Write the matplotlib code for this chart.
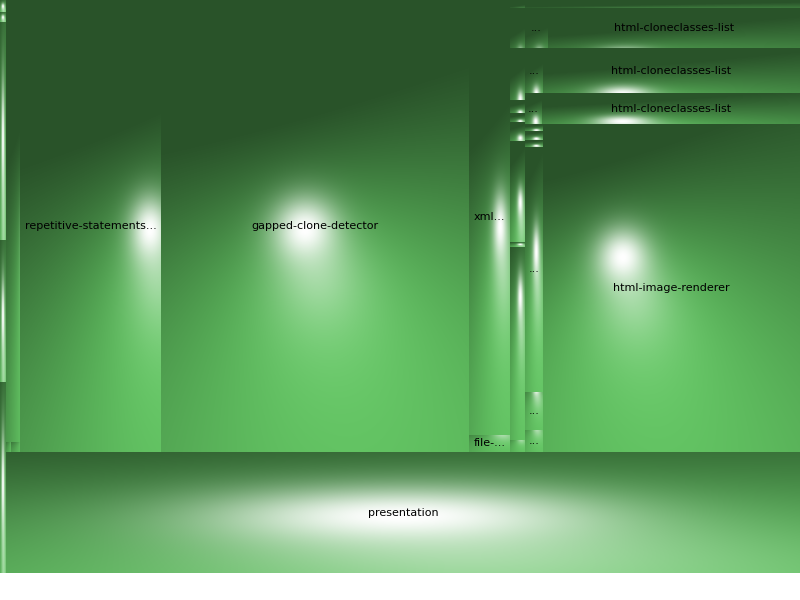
import numpy as np
import matplotlib
matplotlib.use("Agg")
import matplotlib.pyplot as plt
from matplotlib.patches import Rectangle

# ---------------- data (leaf sizes) ----------------
strip_values = [72, 60, 1308, 852, 1146]
col_a_values = [6188]
col_a_foot_values = [50, 90]
g_names = ["repetitive-statements...", "gapped-clone-detector"]
g_values = [63732, 139216]
xml_names = ["xml...", "file-..."]
xml_values = [17835, 697]
col_b_values = [120, 600, 780, 195, 135, 285, 1515, 75, 2895, 180]
html_head_values = [2200]
row_dot_names = ["...", "...", "..."]
row_dot_values = [920, 810, 527]
row_names = ["html-cloneclasses-list", "html-cloneclasses-list", "html-cloneclasses-list"]
row_values = [10080, 11565, 7998]
col_c_names = ["", "", "", "...", "...", "..."]
col_c_values = [126, 162, 126, 4410, 684, 396]
renderer_names = ["html-image-renderer"]
renderer_values = [84296]
presentation_names = ["presentation"]
presentation_values = [96074]

# ---------------- style ----------------
F = 1.12          # ridge height factor per level
RH = 0.15         # base ridge height
L1 = np.array([0.3, 1.15, 1.0]); L1 /= np.linalg.norm(L1)
H1 = L1 + np.array([0.0, 0.0, 1.0]); H1 /= np.linalg.norm(H1)
L2 = np.array([0.0, 0.036, 1.0]); L2 /= np.linalg.norm(L2)
P, P2, K2 = 24, 14, 0.4
WRAP = 0.05
AMB, KD, KS = 0.41, 0.56, 1.0
BASE = np.array([0.40, 0.80, 0.40])
MAP_W, MAP_H = 800, 573


class Node:
    def __init__(self, name="", value=0.0, children=None, split="x", real=True):
        self.name = name
        self.value = value
        self.children = children or []
        self.split = split
        self.real = real

    def total(self):
        if not self.children:
            return self.value
        return sum(c.total() for c in self.children)


def leaves(values, names=None):
    names = names if names is not None else [""] * len(values)
    return [Node(n, v) for n, v in zip(names, values)]


def group(children, split, real=False):
    return Node("", 0, children, split, real)


strip = group(leaves(strip_values), "y")
col_a = group(leaves(col_a_values) + [group(leaves(col_a_foot_values), "x")], "y")
G = group([col_a] + leaves(g_values, g_names), "x", real=True)
col_xml = group(leaves(xml_values, xml_names), "y")
col_b = group(leaves(col_b_values), "y")
rows = [group(leaves([d], [dn]) + leaves([v], [n]), "x")
        for dn, d, n, v in zip(row_dot_names, row_dot_values, row_names, row_values)]
col_c = group(leaves(col_c_values, col_c_names), "y")
bottom = group([col_c] + leaves(renderer_values, renderer_names), "x")
col_html = group(leaves(html_head_values) + rows + [bottom], "y")
Hn = group([col_xml, col_b, col_html], "x", real=True)
top = group([G, Hn], "x", real=True)
main = group([top] + leaves(presentation_values, presentation_names), "y")
root = group([strip, main], "x")


def layout(node, rect, ancestors, depth, out):
    anc, d = ancestors, depth
    if node.real:
        d = depth + 1
        anc = ancestors + [(rect, F ** (d - 1))]
    if not node.children:
        out.append((node, rect, anc))
        return
    x0, y0, x1, y1 = rect
    tot = node.total()
    pos = x0 if node.split == "x" else y0
    span = (x1 - x0) if node.split == "x" else (y1 - y0)
    for c in node.children:
        size = span * c.total() / tot
        r = (pos, y0, pos + size, y1) if node.split == "x" else (x0, pos, x1, pos + size)
        pos += size
        layout(c, r, anc, d, out)


def shade(rect, anc):
    x0, y0, x1, y1 = rect
    nx_ = max(1, int(round(x1 - x0)))
    ny_ = max(1, int(round(y1 - y0)))
    xs = x0 + (np.arange(nx_) + 0.5) * (x1 - x0) / nx_
    ys = y0 + (np.arange(ny_) + 0.5) * (y1 - y0) / ny_
    X, Y = np.meshgrid(xs, ys)
    dzdx = np.zeros_like(X)
    dzdy = np.zeros_like(Y)
    for (ax0, ay0, ax1, ay1), w in anc:
        dzdx += 8 * RH * w * ((ax0 + ax1) / 2 - X) / (ax1 - ax0)
        dzdy += 8 * RH * w * ((ay0 + ay1) / 2 - Y) / (ay1 - ay0)
    norm = np.sqrt(dzdx ** 2 + dzdy ** 2 + 1)

    def dot(v):
        return np.clip((-dzdx * v[0] - dzdy * v[1] + v[2]) / norm, 0, None)

    ndl = (-dzdx * L1[0] - dzdy * L1[1] + L1[2]) / norm
    diff = np.clip((ndl + WRAP) / (1 + WRAP), 0, None)
    inten = AMB + KD * diff
    rgb = BASE[None, None, :] * np.minimum(inten, 1)[..., None]
    glow = (K2 * dot(H1) ** P2)[..., None]
    rgb = rgb + (1 - rgb) * glow
    s = (KS * dot(L2) ** P)[..., None]
    rgb = rgb * (1 - s) + s
    return np.clip(rgb, 0, 1)


cells = []
layout(root, (0, 0, MAP_W, MAP_H), [], 0, cells)

fig = plt.figure(figsize=(8, 6), dpi=100)
ax = fig.add_axes([0, 0, 1, 1])
ax.add_patch(Rectangle((0, 0), MAP_W, MAP_H, facecolor=BASE * AMB, linewidth=0, zorder=0))
for node, rect, anc in cells:
    x0, y0, x1, y1 = rect
    ax.imshow(shade(rect, anc), extent=(x0, x1, y1, y0), interpolation="nearest",
              aspect="auto", zorder=1)
    if node.name:
        ax.text((x0 + x1) / 2, (y0 + y1) / 2, node.name, ha="center", va="center",
                fontsize=8, color="black", family="DejaVu Sans", zorder=2)
ax.set_xlim(0, 800)
ax.set_ylim(600, 0)
ax.axis("off")
fig.savefig("out.png", dpi=100, facecolor="white")
